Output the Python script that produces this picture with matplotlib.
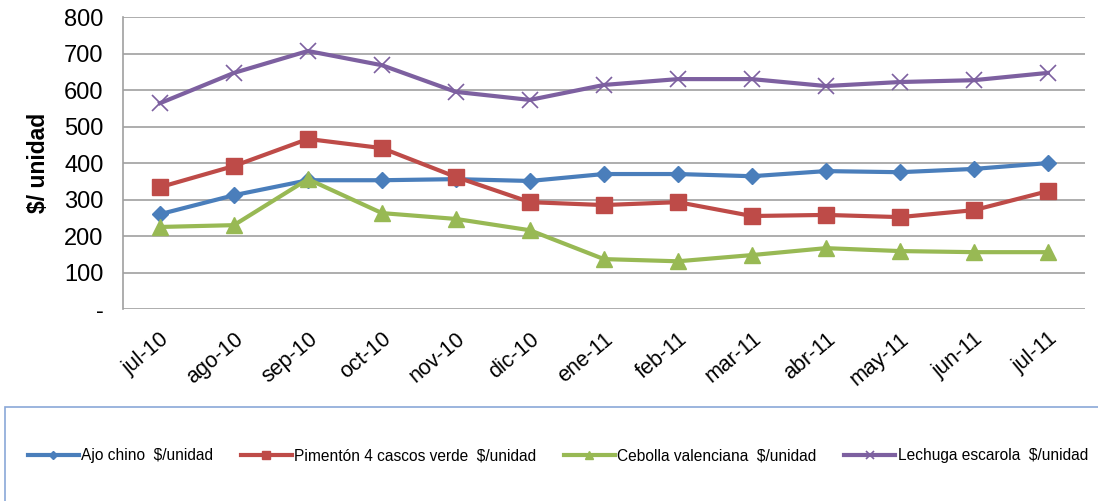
import matplotlib
matplotlib.use("Agg")
import matplotlib.pyplot as plt
from matplotlib.patches import Rectangle

plt.rcParams["font.family"] = ["Liberation Sans", "DejaVu Sans"]

months = ["jul-10", "ago-10", "sep-10", "oct-10", "nov-10", "dic-10", "ene-11",
          "feb-11", "mar-11", "abr-11", "may-11", "jun-11", "jul-11"]
ajo = [260, 312, 353, 353, 356, 351, 370, 370, 364, 378, 375, 384, 400]
pimenton = [334, 392, 466, 441, 362, 293, 285, 293, 255, 258, 252, 271, 323]
cebolla = [225, 230, 356, 263, 247, 216, 137, 131, 148, 167, 159, 156, 156]
lechuga = [564, 647, 707, 668, 595, 573, 614, 630, 630, 611, 622, 627, 647]

labels = ["Ajo chino  $/unidad", "Pimentón 4 cascos verde  $/unidad",
          "Cebolla valenciana  $/unidad", "Lechuga escarola  $/unidad"]
yticks = [0, 100, 200, 300, 400, 500, 600, 700, 800]
ytick_labels = ["-", "100", "200", "300", "400", "500", "600", "700", "800"]

fig = plt.figure(figsize=(10.98, 5.01), dpi=100)
ax = fig.add_axes([0.112, 0.383, 0.876, 0.583])

x = list(range(len(months)))
ax.plot(x, ajo, color="#4a7ebb", lw=3, marker="D", ms=8.5, label=labels[0])
ax.plot(x, pimenton, color="#be4b48", lw=3, marker="s", ms=11, label=labels[1])
ax.plot(x, cebolla, color="#98b954", lw=3, marker="^", ms=12, label=labels[2])
ax.plot(x, lechuga, color="#7d60a0", lw=3, marker="x", ms=11, mew=1.2, label=labels[3])

ax.set_xlim(-0.5, len(months) - 0.5)
ax.set_ylim(0, 800)
ax.set_yticks(yticks)
ax.set_yticklabels(ytick_labels, fontsize=17)
ax.set_xticks(x)
ax.set_xticklabels(months, fontsize=15.5, rotation=40, ha="right", rotation_mode="anchor")
ax.tick_params(axis="y", length=0, pad=14)
ax.tick_params(axis="x", length=0, pad=14)
ax.grid(axis="y", color="#a0a0a0", lw=1.2)
ax.set_axisbelow(True)
for s in ["top", "right", "bottom"]:
    ax.spines[s].set_visible(False)
ax.spines["left"].set_color("#a0a0a0")
ax.spines["left"].set_linewidth(1.2)
ax.set_ylabel("$/ unidad", fontsize=16.5, fontweight="bold", labelpad=10)

fig.patches.append(Rectangle((0.005, -0.1), 1.2, 0.288, transform=fig.transFigure,
                             fill=False, edgecolor="#8aa8d8", lw=1.2))
fig.legend(loc="center", bbox_to_anchor=(0.508, 0.09), ncol=4, frameon=False,
           fontsize=11.2, handlelength=3.3, handletextpad=0.15, columnspacing=1.75,
           markerscale=0.5)

fig.savefig("out.png", dpi=100)
